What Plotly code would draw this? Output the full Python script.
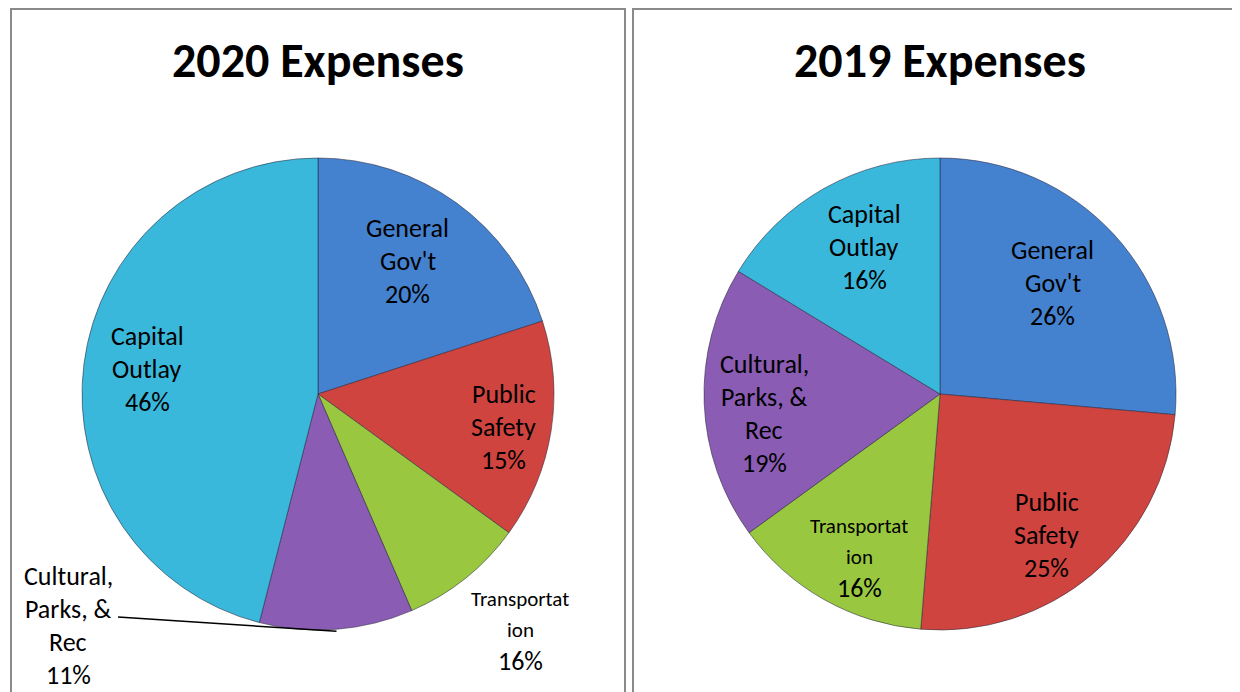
import math
import plotly.graph_objects as go

# ---- data ----
categories = ["General Gov't", "Public Safety", "Transportation",
              "Cultural, Parks, & Rec", "Capital Outlay"]

# slice sizes as drawn in the picture (share of the pie)
values_2020 = [20, 15, 8.5, 10.5, 46]
values_2019 = [26.4, 24.9, 13.7, 18.7, 16.3]

# label text as printed on the chart
names_2020 = ["General\nGov't", "Public\nSafety", "Transportat\nion",
              "Cultural,\nParks, &\nRec", "Capital\nOutlay"]
pcts_2020 = ["20%", "15%", "16%", "11%", "46%"]
names_2019 = ["General\nGov't", "Public\nSafety", "Transportat\nion",
              "Cultural,\nParks, &\nRec", "Capital\nOutlay"]
pcts_2019 = ["26%", "25%", "16%", "19%", "16%"]

titles = ["2020 Expenses", "2019 Expenses"]

colors = ["#4482d0", "#d04440", "#99c840", "#8a5cb4", "#3ab8dc"]

W, H = 1240, 692
OFF = 8  # page body margin of the browser
FONT = "Carlito, Lato, sans-serif"


def px(x):
    return (x - OFF) / W


def py(y):
    return 1 - (y - OFF) / H


def slice_point(values, i, frac, cx, cy, r, shift=0):
    """Point at the middle angle of slice i (plus shift degrees), frac * radius out."""
    total = sum(values)
    start = sum(values[:i]) / total * 360
    mid = math.radians(start + values[i] / total * 180 + shift)
    return cx + frac * r * math.sin(mid), cy - frac * r * math.cos(mid)


fig = go.Figure()
annotations = []
shapes = []

# label placement: (radius fraction, angle shift) or a fixed pixel spot for outside labels
pies = [
    dict(values=values_2020, names=names_2020, pcts=pcts_2020, cx=318, cy=394,
         place=[(0.68, -2), (0.80, 1), ("fixed", 520, 630), ("fixed", 68, 625), (0.73, 1)],
         leader=3),
    dict(values=values_2019, names=names_2019, pcts=pcts_2019, cx=940, cy=394,
         place=[(0.67, -2), (0.75, 3), (0.77, -3), (0.75, -4), (0.70, 2)],
         leader=None),
]
R = 236

for k, p in enumerate(pies):
    cx, cy = p["cx"], p["cy"]
    fig.add_trace(go.Pie(
        labels=categories,
        values=p["values"],
        sort=False,
        direction="clockwise",
        rotation=0,
        marker=dict(colors=colors, line=dict(color="rgba(40,40,60,0.55)", width=1)),
        textinfo="none",
        hoverinfo="label+percent",
        showlegend=False,
        domain=dict(x=[px(cx - R), px(cx + R)], y=[py(cy + R), py(cy - R)]),
    ))

    # title
    annotations.append(dict(
        text="<b>%s</b>" % titles[k], x=px(cx), y=py(61), xref="paper", yref="paper",
        showarrow=False, font=dict(family=FONT, size=48, color="black"),
        xanchor="center", yanchor="middle",
    ))

    for i in range(len(categories)):
        spot = p["place"][i]
        if spot[0] == "fixed":
            lx, ly = spot[1], spot[2]
        else:
            lx, ly = slice_point(p["values"], i, spot[0], cx, cy, R, spot[1])
        if p["leader"] == i:
            ex, ey = slice_point(p["values"], i, 1.0, cx, cy, R)
            shapes.append(dict(type="line", xref="paper", yref="paper",
                               x0=px(118), y0=py(617), x1=px(ex), y1=py(ey + 2),
                               line=dict(color="black", width=1.5)))
        lines = p["names"][i].split("\n") + [p["pcts"][i]]
        small = categories[i] == "Transportation"
        spacing = 31 if small else 33
        n = len(lines)
        for j, line in enumerate(lines):
            is_pct = j == n - 1
            size = (26 if is_pct else 21) if small else 26
            annotations.append(dict(
                text=line, x=px(lx), y=py(ly + (j - (n - 1) / 2) * spacing),
                xref="paper", yref="paper", showarrow=False,
                font=dict(family=FONT, size=size, color="black"),
                xanchor="center", yanchor="middle",
            ))

# table-like panel borders
border = dict(color="#8a8a8a", width=2)
for x0, x1 in [(10, 626), (632, 1260)]:
    shapes.append(dict(type="line", xref="paper", yref="paper",
                       x0=px(x0), x1=px(x1), y0=py(9), y1=py(9), line=border))
    shapes.append(dict(type="line", xref="paper", yref="paper",
                       x0=px(x0 + 1), x1=px(x0 + 1), y0=py(8), y1=py(720), line=border))
shapes.append(dict(type="line", xref="paper", yref="paper",
                   x0=px(625), x1=px(625), y0=py(8), y1=py(720), line=border))

fig.update_layout(
    width=W, height=H,
    margin=dict(l=0, r=0, t=0, b=0),
    paper_bgcolor="white",
    plot_bgcolor="white",
    annotations=annotations,
    shapes=shapes,
    font=dict(family=FONT),
)

fig.write_html("out.html")
